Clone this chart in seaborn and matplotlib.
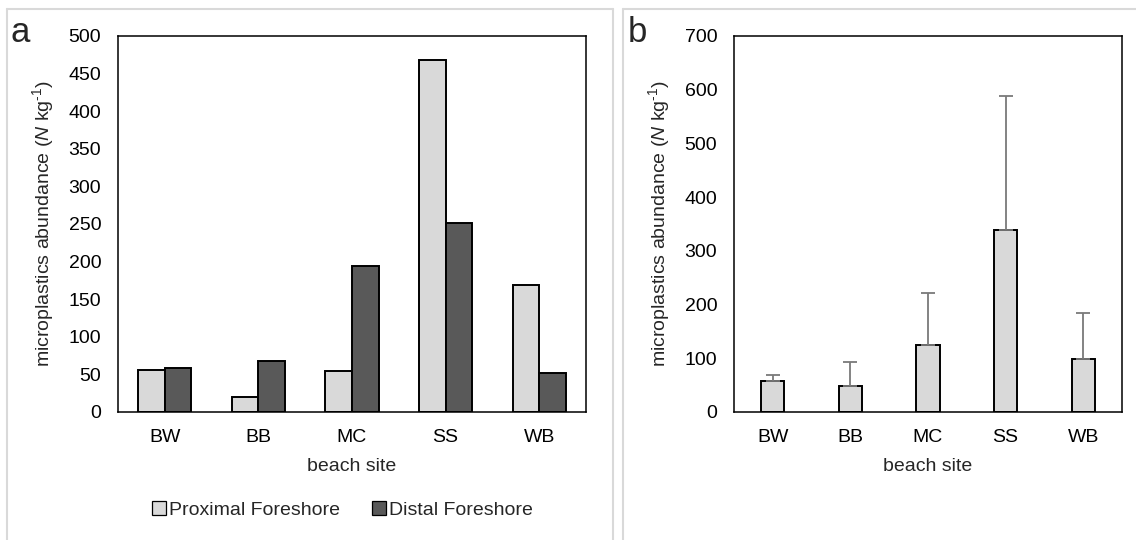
import numpy as np
import pandas as pd
import matplotlib
matplotlib.use("Agg")
import matplotlib.pyplot as plt
from matplotlib.lines import Line2D
import seaborn as sns

# Microplastics abundance by beach site
sites = ["BW", "BB", "MC", "SS", "WB"]
proximal = [56, 20, 55, 468, 169]
distal = [59, 68, 194, 251, 52]
zone_names = ["Proximal Foreshore", "Distal Foreshore"]

# Site means with upper error bounds
site_mean = [58, 48, 125, 338, 99]
site_upper = [69, 94, 222, 589, 185]

light = "#d9d9d9"
dark = "#595959"

sns.set_theme(style="white")
plt.rcParams["font.family"] = ["Liberation Sans", "DejaVu Sans"]
plt.rcParams["mathtext.fontset"] = "custom"
plt.rcParams["mathtext.rm"] = "Liberation Sans"
plt.rcParams["mathtext.it"] = "Liberation Sans:italic"

W, H = 1136, 540
fig = plt.figure(figsize=(W / 100, H / 100), dpi=100)
fig.patch.set_facecolor("white")


def fig_rect(left, top, right, bottom):
    return [left / W, 1 - bottom / H, (right - left) / W, (bottom - top) / H]


ax_a = fig.add_axes(fig_rect(118, 36, 586, 412))
ax_b = fig.add_axes(fig_rect(734, 36, 1122, 412))

ylabel = r"microplastics abundance ($\mathit{N}$ kg$^{\text{-1}}$)"
fs = 14

# Panel a: grouped bars
df_a = pd.DataFrame({
    "site": sites * 2,
    "zone": [zone_names[0]] * len(sites) + [zone_names[1]] * len(sites),
    "value": proximal + distal,
})
sns.barplot(data=df_a, x="site", y="value", hue="zone", hue_order=zone_names,
            palette=[light, dark], width=0.57, gap=0, edgecolor="black",
            linewidth=1.4, errorbar=None, ax=ax_a, legend=False)
ax_a.set_ylim(0, 500)
ax_a.set_yticks(np.arange(0, 501, 50))

# Panel b: mean bars with upper error bars
df_b = pd.DataFrame({"site": sites, "value": site_mean})
sns.barplot(data=df_b, x="site", y="value", color=light, width=0.30,
            edgecolor="black", linewidth=1.4, errorbar=None, ax=ax_b)
err_up = np.array(site_upper) - np.array(site_mean)
ax_b.errorbar(np.arange(len(sites)), site_mean,
              yerr=[np.zeros(len(sites)), err_up], fmt="none",
              ecolor="#7a7a7a", elinewidth=1.3, capsize=5, capthick=1.3,
              zorder=1)
ax_b.set_ylim(0, 700)
ax_b.set_yticks(np.arange(0, 701, 100))

for ax in (ax_a, ax_b):
    ax.set_xlim(-0.5, len(sites) - 0.5)
    ax.set_xlabel("beach site", fontsize=fs, labelpad=9)
    ax.set_ylabel(ylabel, fontsize=fs, labelpad=9)
    ax.tick_params(axis="both", which="both", length=0, labelsize=fs,
                   colors="black")
    ax.tick_params(axis="x", pad=12)
    ax.tick_params(axis="y", pad=12)
    for sp in ax.spines.values():
        sp.set_visible(True)
        sp.set_color("black")
        sp.set_linewidth(1.1)
    ax.set_facecolor("white")

# Legend under panel a
handles = [Line2D([0], [0], marker="s", linestyle="none", markersize=10,
                  markerfacecolor=c, markeredgecolor="black",
                  markeredgewidth=0.9) for c in (light, dark)]
fig.legend(handles, zone_names, loc="center", bbox_to_anchor=(342 / W, 1 - 510 / H),
           ncol=2, frameon=False, fontsize=fs, handletextpad=0.1,
           columnspacing=1.6, handlelength=0.8)

# Panel letters
fig.text(10 / W, 1 - 33 / H, "a", fontsize=25, ha="left", va="center")
fig.text(628 / W, 1 - 32 / H, "b", fontsize=25, ha="left", va="center")

# Panel frames
frame_col = "#d9d9d9"
for x0, x1 in ((7, 613), (623, 1140)):
    fig.add_artist(Line2D([x0 / W, x0 / W], [0, 1 - 9 / H], color=frame_col,
                          lw=1.5, transform=fig.transFigure))
    fig.add_artist(Line2D([x0 / W, x1 / W], [1 - 9 / H, 1 - 9 / H], color=frame_col,
                          lw=1.5, transform=fig.transFigure))
    fig.add_artist(Line2D([x1 / W, x1 / W], [0, 1 - 9 / H], color=frame_col,
                          lw=1.5, transform=fig.transFigure))

fig.savefig("out.png", dpi=100, facecolor="white")
